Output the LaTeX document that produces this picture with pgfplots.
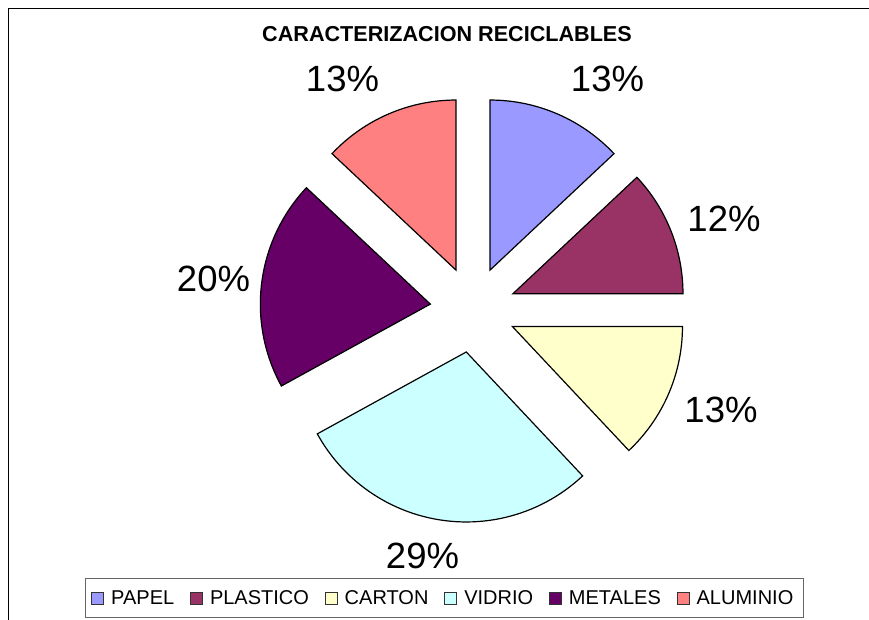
\documentclass[border=0pt]{standalone}
\usepackage{pgfplots}
\pgfplotsset{compat=1.18}
\usepackage{pgfplotstable}
\usepackage{fontspec}
\setmainfont{Liberation Sans}

\definecolor{papel}{HTML}{9999FF}
\definecolor{plastico}{HTML}{993366}
\definecolor{carton}{HTML}{FFFFCC}
\definecolor{vidrio}{HTML}{CCFFFF}
\definecolor{metales}{HTML}{660066}
\definecolor{aluminio}{HTML}{FF8080}

% share (%), colour, label baseline position (px, y from top)
\pgfplotstableread{
name     val col      lx    ly
PAPEL    13  papel    607.5 92
PLASTICO 12  plastico 724   232
CARTON   13  carton   721   422
VIDRIO   29  vidrio   422.5 568
METALES  20  metales  213.5 292
ALUMINIO 13  aluminio 342.5 92
}\piedata

\begin{document}
\begin{tikzpicture}
\begin{axis}[
  width=869pt, height=619pt, scale only axis,
  xmin=0, xmax=869, ymin=0, ymax=619,
  hide axis,
  title={CARACTERIZACION RECICLABLES},
  title style={at={(0.5144,0.9225)}, anchor=base,
    font=\bfseries\fontsize{21.6}{24}\selectfont},
  legend columns=6,
  legend image code/.code={\draw[#1,draw=black!80,line width=0.8pt] (0pt,-6pt) rectangle (12pt,6pt);},
  legend style={at={(0.0978,0.0662)}, anchor=north west,
    draw=black!60, line width=0.9pt, inner xsep=6pt, inner ysep=12pt,
    font=\fontsize{20}{24}\selectfont,
    nodes={inner sep=0pt},
    /tikz/every odd column/.append style={column sep=7pt},
    /tikz/every even column/.append style={column sep=16pt}},
]
% chart frame (cut at right and bottom)
\draw[line width=1.5pt] (axis cs:8.5,-20) -- (axis cs:8.5,610.5) -- (axis cs:900,610.5);

\def\cum{0}
\pgfplotsforeachungrouped \i in {0,...,5}{%
  \pgfplotstablegetelem{\i}{val}\of\piedata \let\sval=\pgfplotsretval
  \pgfplotstablegetelem{\i}{col}\of\piedata \let\scol=\pgfplotsretval
  \pgfmathsetmacro\as{90-3.6*\cum}
  \pgfmathsetmacro\ae{90-3.6*(\cum+\sval)}
  \pgfmathsetmacro\am{(\as+\ae)/2}
  \pgfmathsetmacro\px{473+43*cos(\am)}
  \pgfmathsetmacro\py{309.5+43*sin(\am)}
  \edef\slice{\noexpand\filldraw[fill=\scol,draw=black,line width=1.2pt]
    (axis cs:\px,\py) -- ++(\as:170pt)
    arc[start angle=\as,end angle=\ae,radius=170pt] -- cycle;}
  \slice
  \pgfmathsetmacro\cum{\cum+\sval}
}

\pgfplotsforeachungrouped \i in {0,...,5}{%
  \pgfplotstablegetelem{\i}{val}\of\piedata \let\sval=\pgfplotsretval
  \pgfplotstablegetelem{\i}{lx}\of\piedata \let\lx=\pgfplotsretval
  \pgfplotstablegetelem{\i}{ly}\of\piedata \let\ly=\pgfplotsretval
  \pgfmathsetmacro\lyy{619-\ly}
  \edef\lab{\noexpand\node[anchor=base,inner sep=0pt,
    font=\noexpand\fontsize{36.5}{40}\noexpand\selectfont]
    at (axis cs:\lx,\lyy) {\sval\noexpand\%};}
  \lab
}

\addlegendimage{fill=papel}\addlegendentry{PAPEL}
\addlegendimage{fill=plastico}\addlegendentry{PLASTICO}
\addlegendimage{fill=carton}\addlegendentry{CARTON}
\addlegendimage{fill=vidrio}\addlegendentry{VIDRIO}
\addlegendimage{fill=metales}\addlegendentry{METALES}
\addlegendimage{fill=aluminio}\addlegendentry{ALUMINIO\hspace*{4pt}}
\end{axis}
\pgfresetboundingbox
\path[use as bounding box] (0,0) rectangle (869pt,619pt);
\end{tikzpicture}
\end{document}
